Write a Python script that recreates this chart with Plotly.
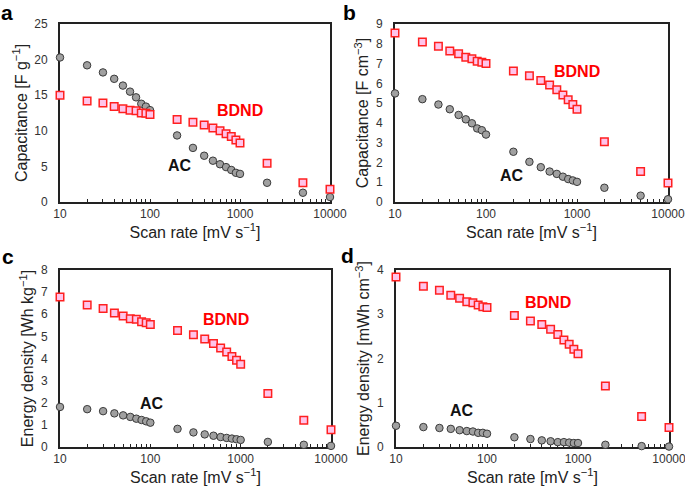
import plotly.graph_objects as go

W, H = 685, 487

scan_rate = [10, 20, 30, 40, 50, 60, 70, 80, 90, 100,
             200, 300, 400, 500, 600, 700, 800, 900, 1000, 2000, 5000, 10000]

# (a) gravimetric capacitance [F g-1]
cap_g_ac = [20.3, 19.2, 18.2, 17.3, 16.35, 15.5, 14.7, 13.8, 13.4, 12.9,
            9.35, 7.6, 6.5, 5.8, 5.3, 4.9, 4.5, 4.1, 3.95, 2.7, 1.3, 0.7]
cap_g_bdnd = [15.0, 14.2, 13.9, 13.4, 13.1, 12.9, 12.8, 12.5, 12.45, 12.3,
              11.6, 11.2, 10.8, 10.4, 10.0, 9.6, 9.2, 8.7, 8.3, 5.45, 2.7, 1.8]

# (b) volumetric capacitance [F cm-3]
cap_v_ac = [5.49, 5.2, 4.93, 4.69, 4.4, 4.18, 3.98, 3.72, 3.63, 3.41,
            2.54, 2.03, 1.76, 1.54, 1.42, 1.28, 1.16, 1.09, 1.02, 0.72, 0.32, 0.14]
cap_v_bdnd = [8.55, 8.09, 7.87, 7.63, 7.49, 7.32, 7.24, 7.12, 7.07, 7.0,
              6.62, 6.38, 6.14, 5.92, 5.67, 5.41, 5.17, 4.93, 4.69, 3.05, 1.54, 0.96]

# (c) gravimetric energy density [Wh kg-1]
en_g_ac = [1.81, 1.71, 1.62, 1.52, 1.43, 1.36, 1.28, 1.22, 1.16, 1.1,
           0.82, 0.66, 0.57, 0.51, 0.45, 0.41, 0.38, 0.35, 0.32, 0.23, 0.1, 0.05]
en_g_bdnd = [6.78, 6.42, 6.26, 6.06, 5.92, 5.8, 5.77, 5.66, 5.62, 5.54,
             5.27, 5.07, 4.88, 4.68, 4.48, 4.29, 4.09, 3.92, 3.74, 2.42, 1.21, 0.78]

# (d) volumetric energy density [mWh cm-3]
en_v_ac = [0.48, 0.45, 0.43, 0.41, 0.38, 0.36, 0.35, 0.32, 0.32, 0.30,
           0.22, 0.18, 0.15, 0.13, 0.11, 0.11, 0.10, 0.09, 0.09, 0.05, 0.02, 0.01]
en_v_bdnd = [3.84, 3.63, 3.54, 3.43, 3.36, 3.28, 3.26, 3.21, 3.17, 3.15,
             2.97, 2.85, 2.77, 2.66, 2.54, 2.42, 2.32, 2.21, 2.11, 1.38, 0.69, 0.44]

x_tickvals = [10, 100, 1000, 10000]
x_ticktext = ["10", "100", "1000", "10000"]

panels = [
    dict(letter="a", ac=cap_g_ac, bd=cap_g_bdnd, ymax=25, dy=5,
         ytitle="Capacitance [F g<sup>−1</sup>]",
         dom_px=(60, 330, 24, 202), bd_px=(240, 110), ac_px=(180, 165), let_px=(7, 12)),
    dict(letter="b", ac=cap_v_ac, bd=cap_v_bdnd, ymax=9, dy=1,
         ytitle="Capacitance [F cm<sup>−3</sup>]",
         dom_px=(395, 668, 24, 202), bd_px=(577, 71), ac_px=(512, 175), let_px=(349, 12)),
    dict(letter="c", ac=en_g_ac, bd=en_g_bdnd, ymax=8, dy=1,
         ytitle="Energy density [Wh kg<sup>−1</sup>]",
         dom_px=(60, 331, 270, 447), bd_px=(226, 319), ac_px=(152, 403), let_px=(8, 256)),
    dict(letter="d", ac=en_v_ac, bd=en_v_bdnd, ymax=4, dy=1,
         ytitle="Energy density [mWh cm<sup>−3</sup>]",
         dom_px=(396, 669, 270, 447), bd_px=(548, 302), ac_px=(462, 410), let_px=(347, 255)),
]

FONT = "Arial, Liberation Sans, sans-serif"
fig = go.Figure()
annotations = []
layout = {}


def label(text, px, size, color):
    return dict(text=text, x=px[0] / W, y=1 - px[1] / H, xref="paper", yref="paper",
                xanchor="center", yanchor="middle", showarrow=False, borderpad=0,
                font=dict(family=FONT, size=size, color=color))


for i, p in enumerate(panels):
    n = "" if i == 0 else str(i + 1)
    xa, ya = "x" + n, "y" + n
    fig.add_trace(go.Scatter(
        x=scan_rate, y=p["ac"], mode="markers", xaxis=xa, yaxis=ya,
        cliponaxis=False, showlegend=False,
        marker=dict(symbol="circle", size=7.5, color="#a0a0a0",
                    line=dict(color="#3a3a3a", width=1))))
    fig.add_trace(go.Scatter(
        x=scan_rate, y=p["bd"], mode="markers", xaxis=xa, yaxis=ya,
        cliponaxis=False, showlegend=False,
        marker=dict(symbol="square", size=7.5, color="#ffc4ea",
                    line=dict(color="#ff2020", width=1.5))))
    x0, x1, y0, y1 = p["dom_px"]
    layout["xaxis" + n] = dict(
        type="log", range=[1, 4], domain=[x0 / W, x1 / W], anchor=ya, automargin=False,
        tickvals=x_tickvals, ticktext=x_ticktext, ticks="inside", ticklen=3,
        tickcolor="#222", tickwidth=1, ticklabeloverflow="allow",
        minor=dict(ticks="inside", ticklen=3, tickcolor="#222", tickwidth=1,
                   tickvals=[v * k for v in [10, 100, 1000] for k in range(2, 10)]),
        showline=True, linecolor="#222", linewidth=2, mirror=True,
        showgrid=False, zeroline=False, layer="below traces",
        tickfont=dict(family=FONT, size=12, color="#333"),
        title=dict(text="Scan rate [mV s<sup>−1</sup>]", standoff=4,
                   font=dict(family=FONT, size=16, color="#222")))
    layout["yaxis" + n] = dict(
        range=[0, p["ymax"]], dtick=p["dy"], domain=[1 - y1 / H, 1 - y0 / H], anchor=xa,
        automargin=False,
        ticks="", showline=True, linecolor="#222", linewidth=2, mirror=True,
        showgrid=False, zeroline=False, layer="below traces", ticklabelstandoff=8,
        tickfont=dict(family=FONT, size=12, color="#333"),
        title=dict(text=p["ytitle"], standoff=3,
                   font=dict(family=FONT, size=16, color="#222")))
    annotations.append(label("<b>BDND</b>", p["bd_px"], 16, "#ff0000"))
    annotations.append(label("<b>AC</b>", p["ac_px"], 16, "#111"))
    annotations.append(label("<b>" + p["letter"] + "</b>", p["let_px"], 21, "#000"))

fig.update_layout(
    width=W, height=H, margin=dict(l=0, r=0, t=0, b=0),
    paper_bgcolor="white", plot_bgcolor="white",
    annotations=annotations, **layout)

fig.write_html("out.html", config={"displayModeBar": False},
               post_script="document.body.style.margin='0';document.body.style.overflow='hidden';")
